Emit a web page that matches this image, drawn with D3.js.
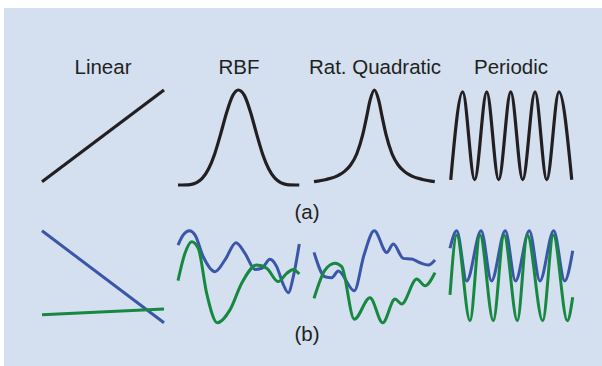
<!DOCTYPE html>
<html>
<head>
<meta charset="utf-8">
<script src="https://cdn.jsdelivr.net/npm/d3@7"></script>
<style>
  body { margin: 0; background: #fff; }
  text { font-family: "Liberation Sans", Arial, sans-serif; fill: #231f20; }
</style>
</head>
<body>
<div id="chart"></div>
<script>
// kernel names (column titles)
const kernels = ["Linear", "RBF", "Rat. Quadratic", "Periodic"];
const rowLabels = ["(a)", "(b)"];

// (a) kernel shapes, [x, k] with x in 0..10, k in 0..1
const linearKernel = [[0, 0.04], [10, 1.0]];
const rbfKernel = [[0, 0.005], [1, 0.01], [2, 0.077], [2.5, 0.172], [3, 0.328], [3.5, 0.541], [4, 0.77], [4.5, 0.944], [4.94, 1],
  [5.44, 0.944], [5.94, 0.77], [6.44, 0.541], [6.94, 0.328], [7.44, 0.172], [7.94, 0.077], [8.94, 0.01], [9.94, 0.005]];
const ratQuadKernel = [[0, 0.04], [1, 0.063], [2, 0.107], [2.5, 0.148], [3, 0.215], [3.5, 0.33], [4, 0.535], [4.3, 0.71], [4.6, 0.894], [4.95, 1],
  [5.3, 0.894], [5.6, 0.71], [5.9, 0.535], [6.4, 0.33], [6.9, 0.215], [7.4, 0.148], [7.9, 0.107], [8.9, 0.063], [9.9, 0.04]];
const periodicKernel = [[0.06, 0.06], [1.04, 0.98], [2.02, 0.06], [3.01, 0.98], [3.99, 0.06], [4.98, 0.98], [5.96, 0.06],
  [6.97, 0.98], [7.93, 0.06], [8.93, 0.98], [9.98, 0.06]];

// (b) sample functions, [x, f] with x in 0..10, f in -2..2
const linearBlue = [[0, 2.01], [10, -1.99]];
const linearGreen = [[0, -1.64], [10, -1.39]];
const rbfBlue = [[0, 1.39], [0.43, 1.83], [0.93, 2.01], [1.39, 1.83], [2.07, 0.88], [3.03, 0.23], [3.85, 0.74], [4.75, 1.49],
  [5.49, 1.03], [6.31, 0.33], [6.86, 0.38], [7.54, 0.77], [8.09, 0.45], [8.61, -0.3], [9.04, -0.68], [9.45, 0.01], [9.94, 1.43]];
const rbfGreen = [[0, -0.16], [0.57, 1.03], [1.12, 1.53], [1.66, 1.25], [2.35, -0.71], [3.22, -1.99], [4.26, -1.43], [5.22, -0.27],
  [6.45, 0.52], [7.27, 0.38], [8.22, -0.2], [8.91, 0.16], [9.45, 0.33], [9.94, 0.13]];
const ratQuadBlue = [[0, 1.07], [0.9, 0.01], [1.45, -0.03], [1.99, 0.26], [3.3, -0.6], [4.1, 0.96], [4.94, 2.01], [5.96, 1.07],
  [6.5, 1.43], [7.32, 0.81], [8.01, 0.78], [8.69, 0.62], [9.37, 0.52], [9.92, 0.74]];
const ratQuadGreen = [[0, -0.93], [0.9, 0.3], [1.72, 0.6], [2.27, 0.45], [3.3, -1.84], [4.59, -0.9], [5.63, -1.99], [6.64, -0.96],
  [7.19, -1.17], [8.42, -0.09], [9.1, -0.38], [9.92, 0.19]];
const periodicBlue = [[0, 1.25], [0.55, 2.01], [1.37, -0.17], [2.55, 2.01], [3.4, -0.17], [4.53, 2.01], [5.37, -0.17],
  [6.5, 2.01], [7.37, -0.17], [8.5, 2.01], [9.4, -0.17], [10.06, 1.14]];
const periodicGreen = [[0, -0.78], [0.55, 1.83], [1.64, -1.9], [2.46, 1.83], [3.55, -1.9], [4.43, 1.83], [5.52, -1.9],
  [6.34, 1.83], [7.6, -1.9], [8.47, 1.83], [9.62, -1.9], [10.06, -0.88]];

const topSeries = [linearKernel, rbfKernel, ratQuadKernel, periodicKernel];
const bottomSeries = [[linearBlue, linearGreen], [rbfBlue, rbfGreen], [ratQuadBlue, ratQuadGreen], [periodicBlue, periodicGreen]];

const width = 602, height = 366;
const colors = { kernel: "#231f20", blue: "#3a56a8", green: "#16883f" };

const svg = d3.select("#chart").append("svg")
  .attr("width", width)
  .attr("height", height);

svg.append("rect")
  .attr("x", 4).attr("y", 8)
  .attr("width", width - 4).attr("height", height - 8)
  .attr("fill", "#d4dff0");

const col = d3.scaleBand()
  .domain(kernels)
  .range([42, 572])
  .paddingInner(0.103)
  .paddingOuter(0);

const x = d3.scaleLinear().domain([0, 10]).range([0, col.bandwidth()]);
const yTop = d3.scaleLinear().domain([0, 1]).range([185.5, 90]);
const yBottom = d3.scaleLinear().domain([-2, 2]).range([323, 231]);

const lineTop = d3.line().x(d => x(d[0])).y(d => yTop(d[1])).curve(d3.curveMonotoneX);
const lineBottom = d3.line().x(d => x(d[0])).y(d => yBottom(d[1])).curve(d3.curveMonotoneX);

const column = svg.selectAll(".kernel")
  .data(kernels)
  .enter().append("g")
  .attr("class", "kernel")
  .attr("transform", d => `translate(${col(d)},0)`);

column.append("text")
  .attr("x", col.bandwidth() / 2)
  .attr("y", 74)
  .attr("text-anchor", "middle")
  .style("font-size", "20.5px")
  .text(d => d);

column.append("path")
  .attr("d", (d, i) => lineTop(topSeries[i]))
  .attr("fill", "none")
  .attr("stroke", colors.kernel)
  .attr("stroke-width", 3.2);

column.selectAll(".sample")
  .data((d, i) => bottomSeries[i])
  .enter().append("path")
  .attr("class", "sample")
  .attr("d", d => lineBottom(d))
  .attr("fill", "none")
  .attr("stroke", (d, i) => i === 0 ? colors.blue : colors.green)
  .attr("stroke-width", 3);

svg.selectAll(".row-label")
  .data(rowLabels)
  .enter().append("text")
  .attr("class", "row-label")
  .attr("x", 307)
  .attr("y", (d, i) => i === 0 ? 219 : 341)
  .attr("text-anchor", "middle")
  .style("font-size", "20.5px")
  .text(d => d);
</script>
</body>
</html>
